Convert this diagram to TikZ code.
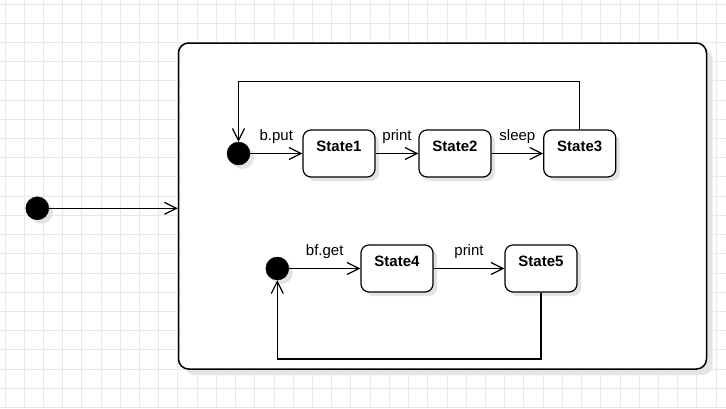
\documentclass[tikz,border=0pt]{standalone}
\usepackage{fontspec}
\setmainfont{Liberation Sans}
\usetikzlibrary{arrows.meta,shadows}

\tikzset{
  gridline/.style={draw=black!9, line width=1pt},
  softshadow/.style={drop shadow={shadow xshift=4pt, shadow yshift=-4pt, fill=black!11, opacity=1}},
  region/.style={draw, line width=1.5pt, fill=white, rounded corners=10pt,
    minimum width=528pt, minimum height=326pt,
    drop shadow={shadow xshift=6pt, shadow yshift=-6pt, fill=black!10, opacity=1}},
  state/.style={draw, line width=1.2pt, fill=white, rounded corners=8pt,
    minimum width=72pt, inner sep=0pt, text height=21.5pt, text depth=25.5pt,
    font=\fontsize{15}{18}\selectfont\bfseries, softshadow},
  startdot/.style={circle, draw, fill=black, inner sep=0pt, minimum size=23pt, softshadow},
  trans/.style={-{Straight Barb[length=12pt,width=12pt]}, line width=1.2pt},
  evt/.style={midway, anchor=base, yshift=13.5pt, font=\fontsize{15}{18}\selectfont}
}

\begin{document}
\begin{tikzpicture}[x=1pt, y=-1pt]
  \useasboundingbox (0,0) rectangle (726,408);
  \fill[white] (0,0) rectangle (726,408);
  % grid
  \foreach \i in {0,...,37}
    \draw[gridline] ({5+19.22*\i},0) -- ({5+19.22*\i},408);
  \foreach \j in {0,...,21}
    \draw[gridline] (0,{4+19.22*\j}) -- (726,{4+19.22*\j});

  \node[region] (box) at (442.5,206) {};
  \node[startdot] (init) at (37.3,208.3) {};
  \draw[trans] (init) -- (init -| box.west);

  % upper cycle
  \node[startdot] (dot1) at (238.5,153.5) {};
  \node[state] (s1) at (339,153.5) {State1};
  \node[state] (s2) at (455,153.5) {State2};
  \node[state] (s3) at (579.7,153.5) {State3};
  \draw[trans] (dot1) -- (s1) node[evt] {b.put};
  \draw[trans] (s1) -- (s2) node[evt] {print};
  \draw[trans] (s2) -- (s3) node[evt] {sleep};
  \draw[trans] (s3.north) -- ++(0,-48.3) -| (dot1.north);

  % lower cycle
  \node[startdot] (dot2) at (277.3,268.5) {};
  \node[state] (s4) at (397,268.5) {State4};
  \node[state] (s5) at (541,268.5) {State5};
  \draw[trans] (dot2) -- (s4) node[evt] {bf.get};
  \draw[trans] (s4) -- (s5) node[evt] {print};
  \draw[trans] (s5.south) -- ++(0,66.3) -| (dot2.south);
\end{tikzpicture}
\end{document}
